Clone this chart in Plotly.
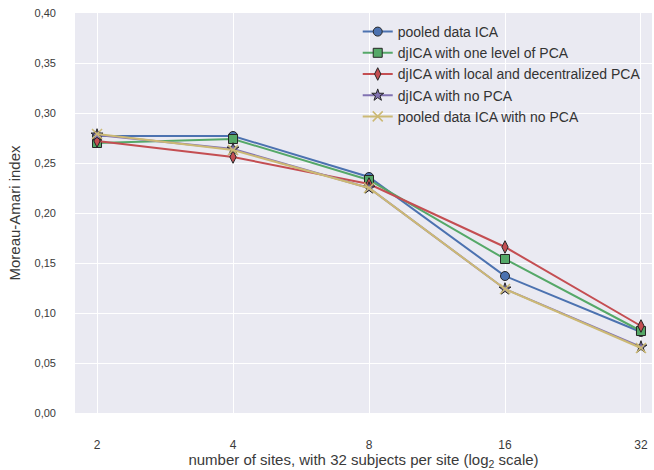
import math
import plotly.graph_objects as go

sites = [2, 4, 8, 16, 32]
tick_labels = ["2", "4", "8", "16", "32"]
y_ticks = [0.0, 0.05, 0.10, 0.15, 0.20, 0.25, 0.30, 0.35, 0.40]

pooled_ica = [0.277, 0.277, 0.236, 0.137, 0.081]
djica_one_level = [0.270, 0.274, 0.233, 0.154, 0.082]
djica_local_decentral = [0.272, 0.256, 0.229, 0.166, 0.087]
djica_no_pca = [0.278, 0.264, 0.225, 0.124, 0.066]
pooled_ica_no_pca = [0.279, 0.263, 0.225, 0.124, 0.065]

series = [
    ("pooled data ICA", pooled_ica, "#4C72B0", "circle"),
    ("djICA with one level of PCA", djica_one_level, "#55A868", "square"),
    ("djICA with local and decentralized PCA", djica_local_decentral, "#C44E52", "diamond-tall"),
    ("djICA with no PCA", djica_no_pca, "#8172B2", "star"),
    ("pooled data ICA with no PCA", pooled_ica_no_pca, "#CCB974", "x-thin"),
]

fig = go.Figure()
for name, vals, color, sym in series:
    if sym == "x-thin":
        marker = dict(symbol=sym, size=10, color=color, line=dict(color=color, width=1.5))
    else:
        marker = dict(symbol=sym, size=9, color=color, line=dict(color="#262626", width=1))
    fig.add_trace(go.Scatter(
        x=sites, y=vals, name=name, mode="lines+markers",
        line=dict(color=color, width=2), marker=marker,
    ))

x0 = 0.838 * math.log10(2)
x1 = 5.081 * math.log10(2)

FONT = "Liberation Sans, Arial, sans-serif"

fig.update_layout(
    width=654, height=470,
    margin=dict(l=75, r=2, t=13, b=57),
    paper_bgcolor="white", plot_bgcolor="#EAEAF2",
    separators=",.",
    font=dict(family=FONT, size=11, color="#3a3a3a"),
    showlegend=True,
    legend=dict(x=0.490, y=0.9925, xanchor="left", yanchor="top",
                bgcolor="rgba(0,0,0,0)", font=dict(size=14, color="#333333"),
                tracegroupgap=0),
    xaxis=dict(type="log", range=[x0, x1], tickvals=sites, ticktext=tick_labels,
               showgrid=True, gridcolor="white", gridwidth=1, zeroline=False,
               showline=False, ticks="", ticklen=0, automargin=False,
               ticklabelstandoff=23, tickfont=dict(size=12),
               title=dict(text="number of sites, with 32 subjects per site (log<sub>2</sub> scale)",
                          font=dict(size=15), standoff=5)),
    yaxis=dict(range=[0, 0.40], tickvals=y_ticks, tickformat=".2f",
               showgrid=True, gridcolor="white", gridwidth=1, zeroline=False,
               showline=False, ticks="", ticklen=0, automargin=False,
               ticklabelstandoff=18, tickfont=dict(size=11),
               title=dict(text="Moreau-Amari index", font=dict(size=15), standoff=10)),
)

fig.write_html("out.html", config={"displayModeBar": False},
               post_script="document.body.style.margin='0';")
